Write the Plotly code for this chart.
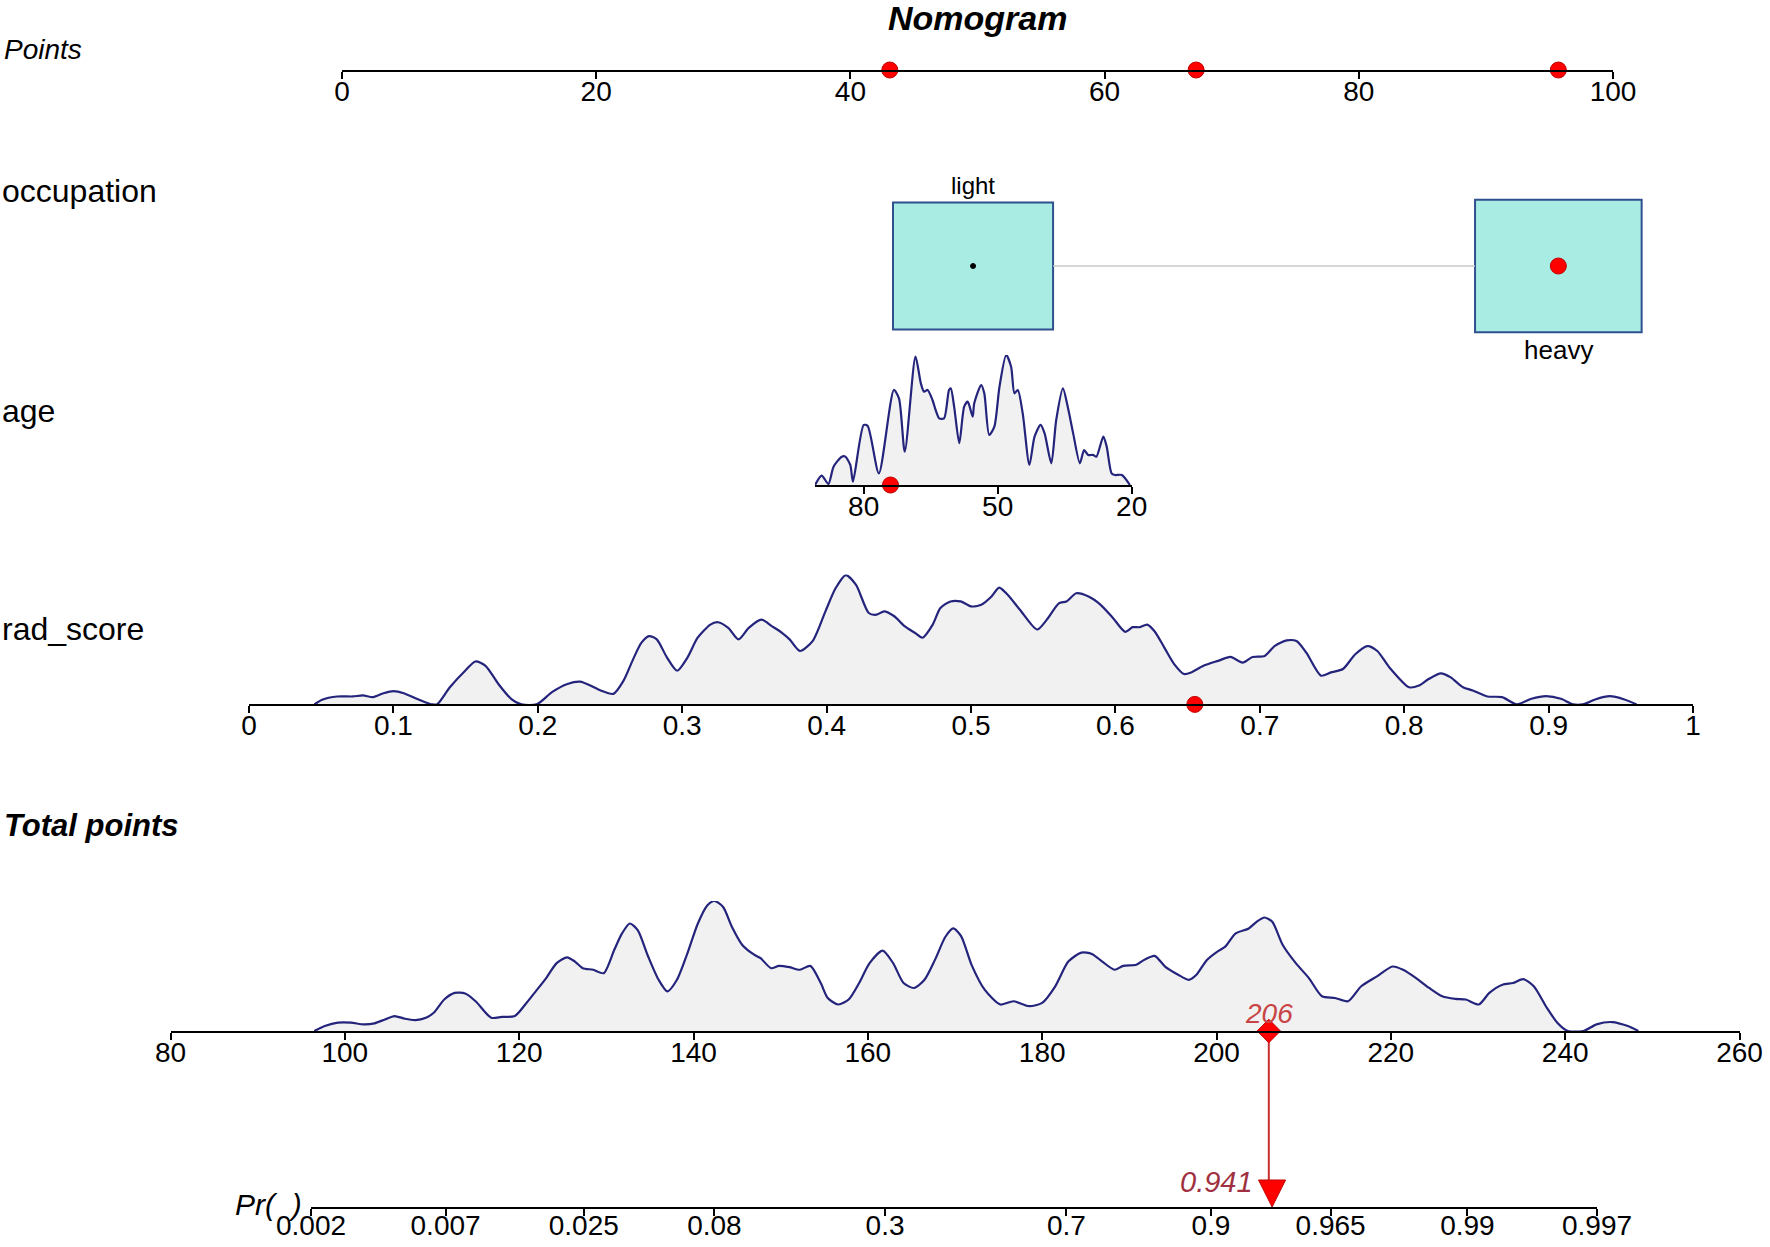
import numpy as np
import plotly.graph_objects as go

# ------------------------------------------------------------------ data
points_ticks = [0, 20, 40, 60, 80, 100]
patient_points = [43.1, 67.2, 95.7]          # age, rad_score, occupation contributions

occ_levels = ["light", "heavy"]
occ_points = [49.65, 95.7]
occ_freq = [0.49, 0.51]
occ_selected = "heavy"

age_ticks = [80, 50, 20]
age_range = [90.9, 20]
age_x = [90.9, 89.4, 87.9, 86.75, 84.9, 84.1, 83.0, 82.4, 80.0, 79.1, 76.6, 73.25, 72.1,
         70.8, 68.4, 67.2, 66.5, 65.7, 64.6, 63.9, 63.1, 62.0, 60.9, 60.5, 59.75, 58.6,
         57.5, 56.7, 55.6, 55.25, 53.7, 53.0, 51.9, 50.75, 49.6, 48.1, 47.0, 46.25, 45.5,
         44.4, 42.9, 41.75, 40.4, 39.5, 38.0, 36.9, 35.4, 34.25, 33.1, 31.6, 30.65, 29.75,
         28.6, 27.9, 26.35, 25.6, 24.5, 23.75, 22.2, 20.4]
age_y = [0, 7.2, 0.8, 14.1, 21.8, 21.8, 15.4, 2.6, 46.2, 45.4, 9.0, 73.1, 66.7,
         25.6, 98.7, 78.2, 71.8, 73.1, 65.4, 57.7, 51.3, 51.3, 73.1, 74.4, 60.3, 32.1,
         60.3, 64.1, 52.6, 62.8, 76.9, 70.5, 38.5, 44.9, 75.6, 100, 91.0, 70.5, 73.1,
         55.1, 15.4, 37.2, 46.2, 39.7, 16.7, 50.0, 74.4, 59.0, 39.7, 16.7, 26.9, 23.1,
         23.1, 21.8, 37.2, 29.5, 9.0, 7.7, 7.7, 0]
patient_age = 74

rad_ticks = [0, 0.1, 0.2, 0.3, 0.4, 0.5, 0.6, 0.7, 0.8, 0.9, 1]
rad_labels = ["0", "0.1", "0.2", "0.3", "0.4", "0.5", "0.6", "0.7", "0.8", "0.9", "1"]
rad_x = [0.0453, 0.0506, 0.0612, 0.0718, 0.0789, 0.0860, 0.0931, 0.1001, 0.1072, 0.1161,
         0.1249, 0.1267, 0.1302, 0.1391, 0.1497, 0.1568, 0.1638, 0.1727, 0.1815, 0.1886,
         0.1992, 0.2098, 0.2205, 0.2293, 0.2364, 0.2435, 0.2523, 0.2594, 0.2665, 0.2718,
         0.2771, 0.2824, 0.2895, 0.2965, 0.3036, 0.3107, 0.3195, 0.3248, 0.3319, 0.3390,
         0.3461, 0.3549, 0.3620, 0.3691, 0.3744, 0.3815, 0.3903, 0.3992, 0.4062, 0.4133,
         0.4204, 0.4292, 0.4345, 0.4398, 0.4469, 0.4540, 0.4611, 0.4664, 0.4735, 0.4788,
         0.4858, 0.4929, 0.5000, 0.5071, 0.5142, 0.5195, 0.5254, 0.5339, 0.5458, 0.5525,
         0.5610, 0.5661, 0.5729, 0.5814, 0.5898, 0.5983, 0.6068, 0.6119, 0.6169, 0.6220,
         0.6271, 0.6339, 0.6407, 0.6475, 0.6525, 0.6610, 0.6712, 0.6797, 0.6881, 0.6949,
         0.7034, 0.7102, 0.7186, 0.7254, 0.7322, 0.7424, 0.7492, 0.7576, 0.7661, 0.7746,
         0.7814, 0.7898, 0.8034, 0.8102, 0.8169, 0.8254, 0.8322, 0.8407, 0.8475, 0.8576,
         0.8678, 0.8780, 0.8881, 0.8983, 0.9085, 0.9169, 0.9237, 0.9322, 0.9424, 0.9525,
         0.9610]
rad_y = [0, 3.6, 6.1, 6.1, 6.9, 5.6, 8.6, 10.2, 8.6, 4.3,
         0.5, 0, 0, 13.2, 25.9, 33.0, 29.7, 15.7, 4.3, 0,
         0, 9.4, 15.7, 17.5, 14.5, 10.7, 8.1, 18.3, 36.0, 47.5,
         52.5, 50.0, 36.0, 25.9, 36.0, 51.3, 61.4, 63.2, 58.9, 50.0,
         58.9, 65.2, 60.2, 55.1, 50.0, 41.1, 48.7, 71.6, 89.3, 99.5,
         91.9, 70.3, 69.0, 71.6, 67.8, 60.2, 55.1, 51.3, 61.4, 74.1,
         79.2, 79.2, 75.4, 76.6, 83.0, 89.8, 84.3, 72.8, 57.6, 65.2,
         77.9, 79.2, 85.5, 83.0, 76.6, 66.5, 55.8, 59.4, 59.4, 61.4,
         56.3, 43.7, 31.0, 23.4, 24.6, 29.7, 33.5, 36.5, 32.2, 36.5,
         37.3, 44.9, 49.2, 48.7, 39.8, 22.1, 24.6, 27.2, 38.6, 44.9,
         41.1, 28.4, 13.2, 14.5, 19.5, 23.9, 20.8, 13.2, 10.7, 6.1,
         5.6, 0, 4.3, 6.3, 4.3, 0, 0, 3.8, 6.3, 3.8,
         0]
patient_rad = 0.655

total_ticks = [80, 100, 120, 140, 160, 180, 200, 220, 240, 260]
total_x = [96.5, 97.7, 99.2, 100.7, 102.2, 103.4, 104.6, 105.7, 106.9, 108.1, 109.3, 110.2,
           111.4, 112.6, 113.8, 115.0, 116.8, 118.0, 119.5, 120.7, 121.9, 123.1, 124.3,
           125.5, 126.4, 127.3, 128.5, 129.7, 130.9, 131.8, 132.7, 133.6, 134.8, 136.0,
           137.0, 138.1, 139.3, 140.5, 141.6, 142.4, 143.4, 144.4, 145.6, 147.0, 147.7,
           148.9, 149.8, 151.0, 152.2, 153.4, 154.6, 155.4, 156.6, 157.8, 159.0, 160.2,
           161.7, 162.9, 164.1, 165.3, 166.5, 167.7, 168.9, 169.8, 170.7, 171.9, 173.4,
           175.2, 176.7, 178.5, 180.0, 181.5, 183.0, 184.5, 185.7, 186.9, 188.3, 189.3,
           190.8, 191.7, 192.9, 194.1, 195.6, 196.8, 197.7, 198.9, 200.1, 201.0, 202.2,
           203.7, 204.6, 205.5, 206.4, 207.6, 209.1, 210.6, 212.1, 213.6, 215.1, 216.6,
           218.4, 220.2, 221.4, 222.9, 224.4, 225.9, 227.4, 228.6, 230.1, 231.3, 232.8,
           234.0, 235.2, 236.4, 237.9, 239.1, 240.3, 242.1, 243.6, 245.4, 247.2, 248.4]
total_y = [0, 3.8, 6.4, 6.4, 5.1, 5.9, 8.9, 11.5, 9.4, 8.4, 10.2, 14.0,
           24.2, 29.3, 28.8, 22.9, 10.2, 10.9, 11.5, 20.4, 30.5, 40.7, 52.2,
           56.7, 53.4, 48.3, 47.1, 44.5, 62.3, 75.1, 82.7, 77.6, 57.3, 39.4,
           30.5, 39.4, 59.8, 82.7, 96.7, 100, 95.4, 80.2, 66.2, 58.5, 56.0,
           48.3, 50.1, 49.1, 47.1, 50.1, 36.9, 25.4, 20.4, 24.2, 36.9, 52.2,
           61.8, 52.2, 36.9, 33.1, 39.4, 54.7, 72.5, 78.9, 73.0, 50.9, 31.8,
           20.4, 22.9, 19.1, 21.6, 34.4, 53.4, 60.3, 59.3, 53.4, 47.1, 50.1,
           50.9, 54.7, 57.8, 49.6, 43.3, 39.4, 43.3, 54.7, 61.1, 64.9, 75.1,
           78.9, 84.0, 87.3, 84.0, 66.2, 52.2, 40.7, 26.7, 25.4, 22.9, 34.4,
           42.0, 49.6, 47.1, 40.7, 33.1, 26.7, 24.7, 24.2, 20.4, 29.3, 35.6,
           36.9, 39.9, 34.4, 17.8, 6.4, 0, 0, 5.1, 6.9, 3.8, 0]
patient_total = 206

pr_ticks = [0.002, 0.007, 0.025, 0.08, 0.3, 0.7, 0.9, 0.965, 0.99, 0.997]
pr_labels = ["0.002", "0.007", "0.025", "0.08", "0.3", "0.7", "0.9", "0.965", "0.99", "0.997"]
patient_pr = 0.941

# ------------------------------------------------------------------ layout helpers
W, H = 1770, 1247
FONT = "Liberation Sans"


def fx(px):
    return px / W


def fy(px):
    return 1 - px / H


def logit(p):
    p = np.asarray(p, dtype=float)
    return np.log(p / (1 - p))


LINE_BLUE = "#24247c"
FILL_GREY = "#f1f1f1"
RED = "#ff0000"

axis_common = dict(showgrid=False, zeroline=False, showline=True, linecolor="black",
                   linewidth=2, ticks="outside", ticklen=7, tickwidth=1.5,
                   tickcolor="black", tickmode="array", automargin=False,
                   ticklabelstandoff=-12,
                   tickfont=dict(family=FONT, size=28, color="black"), fixedrange=True)
hidden_y = dict(visible=False, showgrid=False, zeroline=False, fixedrange=True,
                automargin=False)

# pixel geometry of the rows (baseline positions, from top)
PTS_L, PTS_R, PTS_Y = 342, 1613, 70
OCC_C, OCC_HALF, OCC_RANGE = 266, 66, 1.3
AGE_L, AGE_R, AGE_Y = 815, 1131.7, 485
RAD_L, RAD_R, RAD_Y = 249, 1693, 704.4
TOT_L, TOT_R, TOT_Y = 170.5, 1739.5, 1031
PR_L, PR_R, PR_Y = 311, 1597, 1207
DENS_H = 130

pts_scale = (PTS_R - PTS_L) / 100.0
occ_ext = 10  # extra points on both sides for the occupation boxes

fig = go.Figure()

# ---- Points row
fig.add_trace(go.Scatter(x=patient_points, y=[0] * len(patient_points), mode="markers",
                         marker=dict(size=16, color=RED, line=dict(color="#c00000", width=1)),
                         cliponaxis=False, xaxis="x", yaxis="y", hoverinfo="skip"))

# ---- occupation row
box_w = [25.7 * f for f in occ_freq]
box_h = [3.93 * f for f in occ_freq]
fig.add_trace(go.Scatter(x=[occ_points[0] + box_w[0] / 2, occ_points[1] - box_w[1] / 2],
                         y=[0, 0], mode="lines", line=dict(color="#c8c8c8", width=1.5),
                         xaxis="x2", yaxis="y2", hoverinfo="skip"))
fig.add_trace(go.Bar(x=occ_points, y=box_h, base=[-h / 2 for h in box_h], width=box_w,
                     marker=dict(color="#a9ece4", line=dict(color="#2f4f8f", width=2)),
                     xaxis="x2", yaxis="y2", hoverinfo="skip"))
sel = occ_levels.index(occ_selected)
for i, lvl in enumerate(occ_levels):
    fig.add_trace(go.Scatter(x=[occ_points[i]], y=[0], mode="markers",
                             marker=dict(size=16 if i == sel else 5,
                                         color=RED if i == sel else "black",
                                         line=dict(color="#c00000" if i == sel else "black",
                                                   width=1)),
                             xaxis="x2", yaxis="y2", hoverinfo="skip"))


def density(xs, ys, xa, ya):
    fig.add_trace(go.Scatter(x=xs, y=ys, mode="lines", fill="tozeroy", fillcolor=FILL_GREY,
                             line=dict(color=LINE_BLUE, width=2.2, shape="spline", smoothing=0.7),
                             xaxis=xa, yaxis=ya, hoverinfo="skip"))


# ---- age row
density(age_x, age_y, "x3", "y3")
fig.add_trace(go.Scatter(x=[patient_age], y=[0], mode="markers",
                         marker=dict(size=16, color=RED, line=dict(color="#c00000", width=1)),
                         cliponaxis=False, xaxis="x3", yaxis="y3", hoverinfo="skip"))

# ---- rad_score row
density(rad_x, rad_y, "x4", "y4")
fig.add_trace(go.Scatter(x=[patient_rad], y=[0], mode="markers",
                         marker=dict(size=16, color=RED, line=dict(color="#c00000", width=1)),
                         cliponaxis=False, xaxis="x4", yaxis="y4", hoverinfo="skip"))

# ---- total points row
density(total_x, total_y, "x5", "y5")
fig.add_trace(go.Scatter(x=[patient_total], y=[0], mode="markers",
                         marker=dict(size=18, symbol="diamond", color=RED,
                                     line=dict(color="#c00000", width=1)),
                         cliponaxis=False, xaxis="x5", yaxis="y5", hoverinfo="skip"))

# ---- probability row
fig.add_trace(go.Scatter(x=[float(logit(patient_pr))], y=[0], mode="markers",
                         marker=dict(size=27, symbol="arrow-down", color=RED,
                                     line=dict(color="#c00000", width=1)),
                         cliponaxis=False, xaxis="x6", yaxis="y6", hoverinfo="skip"))

# connector from total points to probability
fig.add_shape(type="line", xref="x5", x0=patient_total, x1=patient_total,
              yref="paper", y0=fy(TOT_Y), y1=fy(PR_Y - 20),
              line=dict(color="#c83030", width=2), layer="below")

fig.update_layout(
    template="none",
    width=W, height=H, autosize=False,
    margin=dict(l=0, r=0, t=0, b=0, pad=0),
    paper_bgcolor="white", plot_bgcolor="white", showlegend=False,
    barmode="overlay",
    xaxis=dict(axis_common, domain=[fx(PTS_L), fx(PTS_R)], range=[0, 100], anchor="y",
               tickvals=points_ticks, ticktext=[str(v) for v in points_ticks]),
    yaxis=dict(hidden_y, domain=[fy(PTS_Y), fy(PTS_Y - 10)], range=[0, 1], anchor="x"),
    xaxis2=dict(visible=False, fixedrange=True, anchor="y2", automargin=False,
                domain=[fx(PTS_L - occ_ext * pts_scale), fx(PTS_R + occ_ext * pts_scale)],
                range=[-occ_ext, 100 + occ_ext]),
    yaxis2=dict(hidden_y, domain=[fy(OCC_C + OCC_HALF * OCC_RANGE),
                                  fy(OCC_C - OCC_HALF * OCC_RANGE)],
                range=[-OCC_RANGE, OCC_RANGE], anchor="x2"),
    xaxis3=dict(axis_common, domain=[fx(AGE_L), fx(AGE_R)], range=age_range, anchor="y3",
                tickvals=age_ticks, ticktext=[str(v) for v in age_ticks]),
    yaxis3=dict(hidden_y, domain=[fy(AGE_Y), fy(AGE_Y - DENS_H)], range=[0, 100], anchor="x3"),
    xaxis4=dict(axis_common, domain=[fx(RAD_L), fx(RAD_R)], range=[0, 1], anchor="y4",
                tickvals=rad_ticks, ticktext=rad_labels),
    yaxis4=dict(hidden_y, domain=[fy(RAD_Y), fy(RAD_Y - DENS_H)], range=[0, 100], anchor="x4"),
    xaxis5=dict(axis_common, domain=[fx(TOT_L), fx(TOT_R)], range=[80, 260], anchor="y5",
                tickvals=total_ticks, ticktext=[str(v) for v in total_ticks]),
    yaxis5=dict(hidden_y, domain=[fy(TOT_Y), fy(TOT_Y - DENS_H)], range=[0, 100], anchor="x5"),
    xaxis6=dict(axis_common, domain=[fx(PR_L), fx(PR_R)],
                range=[float(logit(pr_ticks[0])), float(logit(pr_ticks[-1]))], anchor="y6",
                tickvals=[float(v) for v in logit(pr_ticks)], ticktext=pr_labels,
                ticklabelstandoff=-15),
    yaxis6=dict(hidden_y, domain=[fy(PR_Y), fy(PR_Y - 30)], range=[0, 1], anchor="x6"),
)

ann = []


def label(text, xpx, ypx, size, anchor="left"):
    ann.append(dict(text=text, xref="paper", yref="paper", x=fx(xpx), y=fy(ypx),
                    xanchor=anchor, yanchor="middle", showarrow=False,
                    font=dict(family=FONT, size=size, color="black")))


label("<b><i>Nomogram</i></b>", 977, 18, 34, anchor="center")
label("<i>Points</i>", 2, 50, 28)
label("occupation", 0, 191, 32)
label("age", 0, 411, 32)
label("rad_score", 0, 629, 32)
label("<b><i>Total points</i></b>", 2, 825, 31)
label("<i>Pr(&nbsp;&nbsp;)</i>", 304, 1204, 30, anchor="right")

# category labels
ann.append(dict(text="light", xref="x2", yref="y2", x=occ_points[0], y=box_h[0] / 2,
                xanchor="center", yanchor="bottom", showarrow=False, yshift=1,
                font=dict(family=FONT, size=24, color="black")))
ann.append(dict(text="heavy", xref="x2", yref="y2", x=occ_points[1], y=-box_h[1] / 2,
                xanchor="center", yanchor="top", showarrow=False, yshift=-1,
                font=dict(family=FONT, size=26, color="black")))

# red value labels
ann.append(dict(text=f"<i>{patient_total}</i>", xref="x5", yref="y5", x=patient_total, y=0,
                xanchor="center", yanchor="middle", yshift=18, showarrow=False,
                font=dict(family=FONT, size=28, color="#c84444")))
ann.append(dict(text=f"<i>{patient_pr}</i>", xref="x6", yref="y6",
                x=float(logit(patient_pr)), y=0, xanchor="right", yanchor="middle",
                xshift=-17, yshift=25, showarrow=False,
                font=dict(family=FONT, size=29, color="#a03040")))

fig.update_layout(annotations=ann)
fig.write_html(
    "out.html",
    config={"displayModeBar": False, "staticPlot": False},
    post_script=("document.body.style.margin='0';"
                 "document.documentElement.style.overflow='hidden';"),
)
